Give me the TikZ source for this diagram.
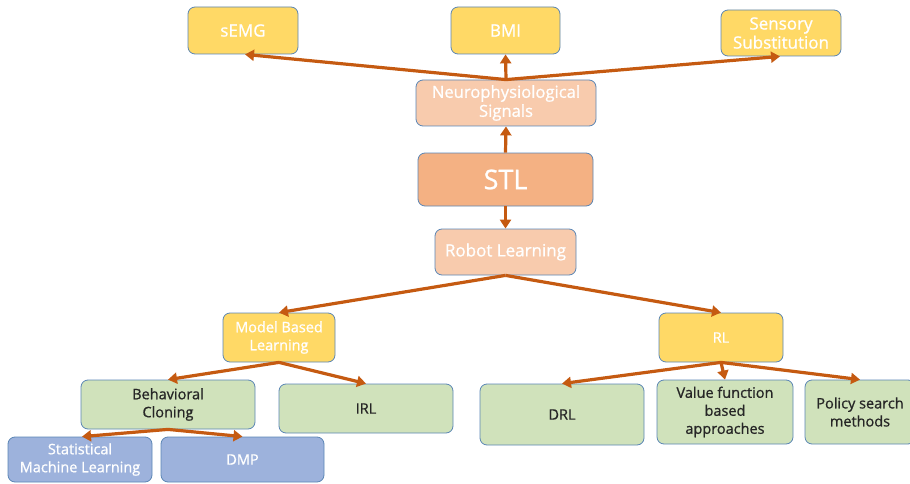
\documentclass[tikz,border=0pt]{standalone}
\usepackage{fontspec}
\setmainfont{Open Sans}[FakeBold=0.9]
\usetikzlibrary{arrows.meta}
\definecolor{ybox}{HTML}{FFD966}
\definecolor{obox}{HTML}{F8CBAD}
\definecolor{odark}{HTML}{F4B183}
\definecolor{gbox}{HTML}{D0E2BB}
\definecolor{bbox}{HTML}{9DB2DC}
\definecolor{edge}{HTML}{5B86B5}
\definecolor{arr}{HTML}{C55A11}
\definecolor{dtext}{HTML}{262626}
\tikzset{
  box/.style={draw=edge, line width=0.8pt, rounded corners=7pt, align=center, inner sep=2pt,
    font=\fontsize{14.5}{18}\selectfont},
  big/.style={font=\fontsize{17}{19}\selectfont},
  ybx/.style={box, fill=ybox, text=white},
  obx/.style={box, fill=obox, text=white},
  sbx/.style={box, fill=odark, text=white, font=\fontsize{27}{30}\selectfont},
  gbx/.style={box, fill=gbox, text=dtext},
  bbx/.style={box, fill=bbox, text=white},
  conn/.style={draw=arr, line width=3.2pt, -{Triangle[length=9pt,width=11pt]}},
}
\begin{document}
\begin{tikzpicture}[x=1pt,y=1pt]
\useasboundingbox (0,0) rectangle (910,483);
\begin{scope}
\clip (0,0) rectangle (910,483);
\node[ybx, big, minimum width=110, minimum height=47] (semg) at (243,452.5) {sEMG};
\node[ybx, big, minimum width=109, minimum height=47] (bmi) at (505.5,452.5) {BMI};
\node[ybx, big, minimum width=120, minimum height=46] (sens) at (781,450) {Sensory\\Substitution};
\node[obx, font=\fontsize{16.6}{19}\selectfont, minimum width=180, minimum height=46] (neuro) at (506,380) {Neurophysiological\\Signals};
\node[sbx, minimum width=175, minimum height=53] (stl) at (505.5,303.5) {STL};
\node[obx, big, minimum width=141, minimum height=46] (robot) at (505.5,231) {Robot Learning};
\node[ybx, minimum width=112, minimum height=49] (mbl) at (279,145.5) {Model Based\\Learning};
\node[ybx, minimum width=124, minimum height=49] (rl) at (721,145.5) {RL};
\node[gbx, minimum width=174, minimum height=49] (bc) at (168,78.5) {Behavioral\\Cloning};
\node[gbx, minimum width=174, minimum height=49] (irl) at (366,74.5) {IRL};
\node[bbx, minimum width=144, minimum height=45] (sml) at (80,23.5) {Statistical\\Machine Learning};
\node[bbx, minimum width=163, minimum height=45] (dmp) at (242.5,23.5) {DMP};
\node[gbx, minimum width=164, minimum height=61] (drl) at (562,68.5) {DRL};
\node[gbx, minimum width=136, minimum height=64] (vf) at (725,71) {Value function\\based\\approaches};
\node[gbx, minimum width=110, minimum height=64] (ps) at (860,71) {Policy search\\methods};
\end{scope}
\draw[conn] (neuro.north) -- (bmi.south);
\draw[conn] (neuro.north) -- ([xshift=2pt]semg.south);
\draw[conn] (neuro.north) -- ([xshift=-1pt]sens.south);
\draw[conn] (stl.north) -- (neuro.south);
\draw[conn] (stl.south) -- (robot.north);
\draw[conn] (robot.south) -- (mbl.north);
\draw[conn] (robot.south) -- (rl.north);
\draw[conn] (mbl.south) -- (bc.north);
\draw[conn] (mbl.south) -- (irl.north);
\draw[conn] (bc.south) -- ([xshift=2pt]sml.north);
\draw[conn] (bc.south) -- (dmp.north);
\draw[conn] (rl.south) -- (drl.north);
\draw[conn] (rl.south) -- (vf.north);
\draw[conn] (rl.south) -- (ps.north);
\end{tikzpicture}
\end{document}
